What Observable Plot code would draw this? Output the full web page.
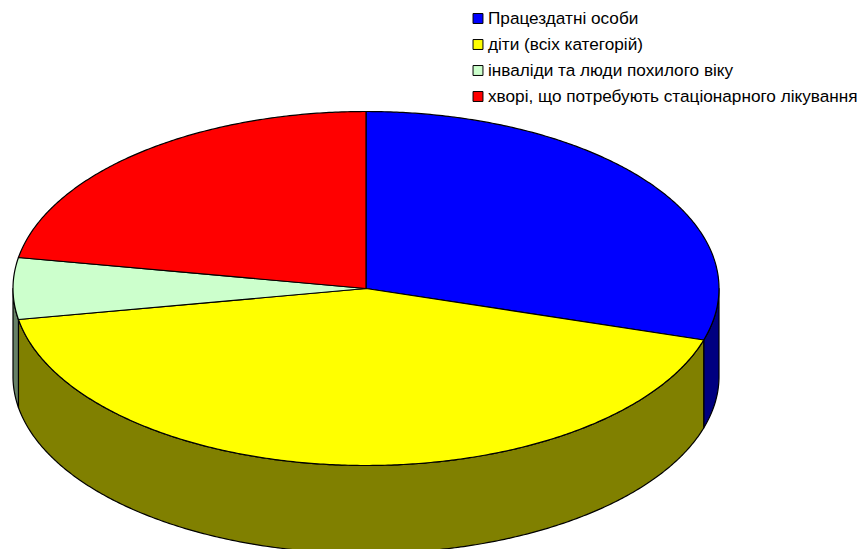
<!DOCTYPE html>
<html>
<head>
<meta charset="utf-8">
<script src="https://cdn.jsdelivr.net/npm/d3@7"></script>
<script src="https://cdn.jsdelivr.net/npm/@observablehq/plot@0.6"></script>
<style>html,body{margin:0;padding:0;background:#fff}svg{display:block}</style>
</head>
<body>
<div id="chart"></div>
<script>
const categories = ["Працездатні особи", "діти (всіх категорій)", "інваліди та люди похилого віку", "хворі, що потребують стаціонарного лікування"];
const values = [29.7, 42.5, 5.6, 22.2];
const topColors = ["#0000ff", "#ffff00", "#ccffcc", "#ff0000"];
const sideColors = ["#000080", "#808000", "#668066", "#800000"];
const depth = 0.497; // pie thickness in y units

const total = d3.sum(values);
const ends = d3.cumsum(values).map(v => v / total * 360);
const pt = (deg, drop = 0) => {
  const t = deg * Math.PI / 180;
  return {x: Math.sin(t), y: -Math.cos(t) + drop};
};
const arc = (a, b) => {
  const n = Math.max(2, Math.ceil(Math.abs(b - a) * 2));
  return d3.range(n + 1).map(i => a + (b - a) * i / n);
};

const tops = [], sides = [];
categories.forEach((c, i) => {
  const a = i ? ends[i - 1] : 0, b = ends[i];
  const add = (list, p) => list.push({...p, key: c, color: topColors[i], side: sideColors[i]});
  add(tops, {x: 0, y: 0});
  arc(a, b).forEach(d => add(tops, pt(d)));
  add(tops, {x: 0, y: 0});
  // visible wall: only the front half of the rim
  const s = Math.max(a, 90), e = Math.min(b, 270);
  if (e > s) {
    const front = arc(s, e);
    front.forEach(d => add(sides, pt(d)));
    front.slice().reverse().forEach(d => add(sides, pt(d, depth)));
    add(sides, pt(s));
  }
});

const legend = categories.map((c, i) => ({c, color: topColors[i], i}));
const rowY = i => 18 + i * 26;

const chart = Plot.plot({
  width: 861,
  height: 549,
  margin: 0,
  style: {background: "#fff", overflow: "hidden"},
  x: {axis: null, domain: [-1, 1], range: [12.5, 718.5]},
  y: {axis: null, domain: [-1, 1], range: [111, 465]},
  marks: [
    Plot.line(sides, {x: "x", y: "y", z: "key", fill: d => d.side, stroke: "#000", strokeWidth: 1.2, curve: "linear"}),
    Plot.line(tops, {x: "x", y: "y", z: "key", fill: d => d.color, stroke: "#000", strokeWidth: 1.2, curve: "linear"}),
    ...legend.map(d => Plot.dot([d], {
      frameAnchor: "top-left", dx: 477.5, dy: rowY(d.i), symbol: "square", r: 5.6,
      fill: d.color, stroke: "#000", strokeWidth: 1
    })),
    ...legend.map(d => Plot.text([d], {
      text: "c", frameAnchor: "top-left", dx: 487.5, dy: rowY(d.i), textAnchor: "start", lineAnchor: "middle",
      fontFamily: "Liberation Sans", fontSize: 17.2, fill: "#000"
    }))
  ]
});
document.getElementById("chart").appendChild(chart);
</script>
</body>
</html>
